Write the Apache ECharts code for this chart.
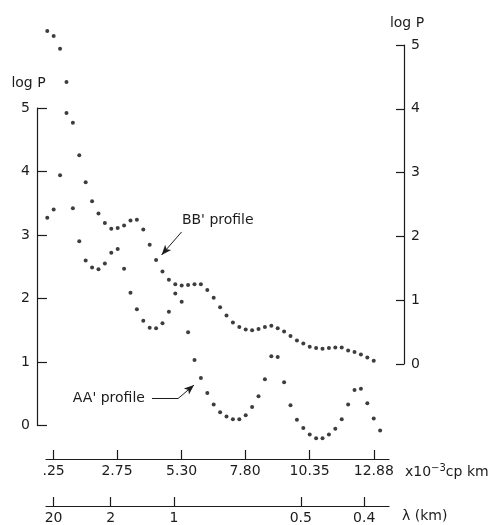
<!DOCTYPE html>
<html>
<head>
<meta charset="utf-8">
<script src="https://cdn.jsdelivr.net/npm/echarts@6/dist/echarts.min.js"></script>
<style>
html, body { margin: 0; padding: 0; background: #fff; }
#main { width: 495px; height: 525px; }
</style>
</head>
<body>
<div id="main"></div>
<script>
// harmonic spacing of the spectra, in x10^-3 cp km
var freqStep = 0.2525;

// AA' profile, log P on the left axis, harmonics 0..52
var aaValues = [3.27, 3.40, 3.94, 4.92, 3.42, 2.90, 2.60, 2.49, 2.46, 2.55,
    2.72, 2.78, 2.47, 2.09, 1.83, 1.65, 1.54, 1.53, 1.61, 1.79,
    2.08, 1.95, 1.47, 1.03, 0.75, 0.51, 0.33, 0.21, 0.14, 0.10,
    0.10, 0.16, 0.29, 0.46, 0.73, 1.09, 1.08, 0.68, 0.32, 0.09,
    -0.04, -0.14, -0.20, -0.20, -0.14, -0.05, 0.10, 0.33, 0.56, 0.58,
    0.35, 0.11, -0.08];

// BB' profile, log P on the right axis, harmonics 0..51
var bbValues = [5.22, 5.14, 4.94, 4.42, 3.78, 3.27, 2.85, 2.55, 2.36, 2.21,
    2.12, 2.13, 2.17, 2.25, 2.26, 2.11, 1.87, 1.63, 1.45, 1.32,
    1.25, 1.23, 1.24, 1.25, 1.25, 1.16, 1.04, 0.89, 0.76, 0.65,
    0.58, 0.54, 0.53, 0.55, 0.58, 0.60, 0.56, 0.51, 0.44, 0.37,
    0.32, 0.27, 0.25, 0.24, 0.25, 0.26, 0.26, 0.21, 0.19, 0.15,
    0.10, 0.05];

// frequency axis ticks
var freqTicks = [0.25, 2.75, 5.30, 7.80, 10.35, 12.88];
var freqLabels = ['.25', '2.75', '5.30', '7.80', '10.35', '12.88'];

// wavelength axis ticks, placed at their frequency
var lambdaTicks = [0.25, 2.5, 5, 10, 12.5];
var lambdaLabels = ['20', '2', '1', '0.5', '0.4'];

var font = 'DejaVu Sans';
var ink = '#1c1c1c';
var dot = '#0d0d0d';

function toPairs(vals) {
    return vals.map(function (v, i) { return [i * freqStep, v]; });
}
function pickLabel(ticks, labels) {
    return function (v) {
        var best = 0;
        for (var i = 0; i < ticks.length; i++) {
            if (Math.abs(ticks[i] - v) < Math.abs(ticks[best] - v)) best = i;
        }
        return labels[best];
    };
}

var xMin = -0.05, xMax = 13.48;
var lineStyle = { color: ink, width: 1.2 };
var textStyle = { color: ink, fontSize: 14, fontFamily: font };

var chart = echarts.init(document.getElementById('main'));
chart.setOption({
    animation: false,
    grid: [
        { left: 46, right: 106, top: 108, bottom: 98.5 },
        { left: 46, right: 106, top: 45, bottom: 161 }
    ],
    xAxis: [{
        gridIndex: 0,
        type: 'value',
        min: xMin,
        max: xMax,
        position: 'bottom',
        offset: 33.5,
        axisLine: { onZero: false, lineStyle: lineStyle },
        axisTick: { inside: true, length: 9, customValues: freqTicks, lineStyle: lineStyle },
        axisLabel: Object.assign({ customValues: freqTicks, margin: 5, formatter: pickLabel(freqTicks, freqLabels) }, textStyle),
        splitLine: { show: false },
        name: '{t|x10}{s|−3}{t|cp km}',
        nameLocation: 'end',
        nameGap: 16,
        nameTextStyle: {
            verticalAlign: 'top',
            padding: [4, 0, 0, 0],
            rich: {
                t: { color: ink, fontSize: 14, fontFamily: font },
                s: { color: ink, fontSize: 10, fontFamily: font, padding: [0, 0, 8, 0] }
            }
        }
    }, {
        gridIndex: 0,
        type: 'value',
        min: xMin,
        max: xMax,
        position: 'bottom',
        offset: 80.5,
        axisLine: { onZero: false, lineStyle: lineStyle },
        axisTick: { inside: true, length: 9, customValues: lambdaTicks, lineStyle: lineStyle },
        axisLabel: Object.assign({ customValues: lambdaTicks, margin: 5, formatter: pickLabel(lambdaTicks, lambdaLabels) }, textStyle),
        splitLine: { show: false },
        name: 'λ (km)',
        nameLocation: 'end',
        nameGap: 13,
        nameTextStyle: Object.assign({ verticalAlign: 'top', padding: [3, 0, 0, 0] }, textStyle)
    }, {
        gridIndex: 1,
        type: 'value',
        min: xMin,
        max: xMax,
        show: false
    }],
    yAxis: [{
        gridIndex: 0,
        type: 'value',
        min: 0,
        max: 5,
        interval: 1,
        position: 'left',
        offset: 9,
        axisLine: { show: true, onZero: false, lineStyle: lineStyle },
        axisTick: { show: true, inside: true, length: 10, lineStyle: lineStyle },
        axisLabel: Object.assign({ margin: 7 }, textStyle),
        splitLine: { show: false },
        name: 'log P',
        nameLocation: 'end',
        nameGap: 18,
        nameTextStyle: Object.assign({ padding: [0, 17, 0, 0] }, textStyle)
    }, {
        gridIndex: 1,
        type: 'value',
        min: 0,
        max: 5,
        interval: 1,
        position: 'right',
        offset: 15,
        axisLine: { show: true, onZero: false, lineStyle: lineStyle },
        axisTick: { show: true, inside: true, length: 8, lineStyle: lineStyle },
        axisLabel: Object.assign({ margin: 7 }, textStyle),
        splitLine: { show: false },
        name: 'log P',
        nameLocation: 'end',
        nameGap: 15,
        nameTextStyle: Object.assign({ padding: [0, 0, 0, 6] }, textStyle)
    }],
    series: [{
        name: "AA' profile",
        type: 'scatter',
        xAxisIndex: 0,
        yAxisIndex: 0,
        clip: false,
        symbolSize: 4,
        itemStyle: { color: dot },
        data: toPairs(aaValues),
        markLine: {
            silent: true,
            symbol: ['none', 'none'],
            label: { show: false },
            lineStyle: { color: ink, width: 1, type: 'solid' },
            data: [
                [{ coord: [4.13, 0.425] }, { coord: [5.16, 0.425] }],
                [{ coord: [5.16, 0.425] }, { coord: [5.79, 0.637], symbol: 'arrow', symbolSize: [6, 10] }]
            ]
        },
        markPoint: {
            silent: true,
            symbol: 'circle',
            symbolSize: 0,
            label: Object.assign({ show: true, position: 'left', distance: 2, formatter: "AA' profile" }, textStyle),
            data: [{ coord: [3.93, 0.425] }]
        }
    }, {
        name: "BB' profile",
        type: 'scatter',
        xAxisIndex: 2,
        yAxisIndex: 1,
        clip: false,
        symbolSize: 4,
        itemStyle: { color: dot },
        data: toPairs(bbValues),
        markLine: {
            silent: true,
            symbol: ['none', 'arrow'],
            symbolSize: [6, 10],
            label: { show: false },
            lineStyle: { color: ink, width: 1, type: 'solid' },
            data: [
                [{ coord: [5.30, 2.07] }, { coord: [4.51, 1.71] }]
            ]
        },
        markPoint: {
            silent: true,
            symbol: 'circle',
            symbolSize: 0,
            label: Object.assign({ show: true, position: 'right', distance: 0, formatter: "BB' profile" }, textStyle),
            data: [{ coord: [5.31, 2.257] }]
        }
    }]
});
</script>
</body>
</html>
